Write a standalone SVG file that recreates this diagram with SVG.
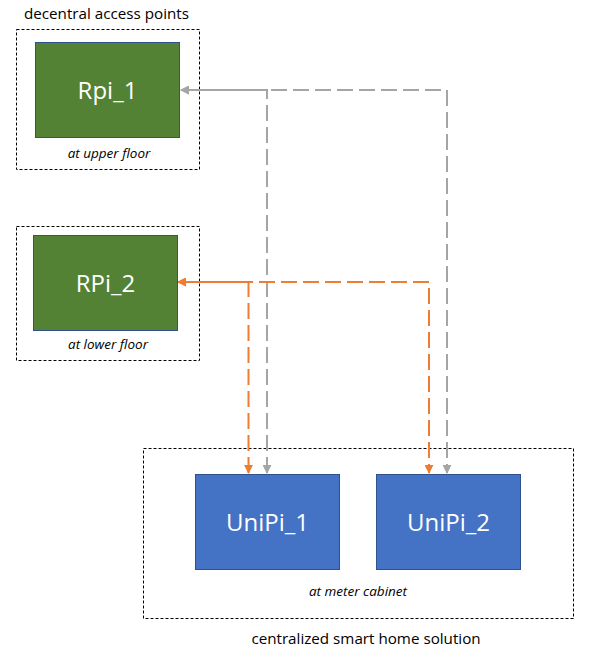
<svg xmlns="http://www.w3.org/2000/svg" width="592" height="658" viewBox="0 0 592 658">
<defs>
<style>
.grp{fill:none;stroke:#000;stroke-width:1;stroke-dasharray:3,2}
.green{fill:#548235;stroke:#2F528F;stroke-width:1}
.blue{fill:#4472C4;stroke:#2F528F;stroke-width:1}
.lbl{font-family:"Open Sans","Noto Sans",sans-serif;fill:#fff;font-size:24px;text-anchor:middle}
.cap{font-family:"Open Sans","Noto Sans",sans-serif;fill:#000;font-size:13.5px;font-style:italic;text-anchor:middle}
.title{font-family:"Open Sans","Noto Sans",sans-serif;fill:#000;font-size:15.2px}
.gray{fill:none;stroke:#A5A5A5;stroke-width:2;stroke-dasharray:16,6;marker-start:url(#ag);marker-end:url(#ag)}
.orange{fill:none;stroke:#ED7D31;stroke-width:2;stroke-dasharray:16,6;marker-start:url(#ao);marker-end:url(#ao)}
.shift{stroke-dashoffset:7}
</style>
<marker id="ag" viewBox="0 0 10 10" refX="9" refY="5" markerWidth="4.5" markerHeight="4.5" orient="auto-start-reverse" markerUnits="strokeWidth"><path d="M0,0L10,5L0,10z" fill="#A5A5A5"/></marker>
<marker id="ao" viewBox="0 0 10 10" refX="9" refY="5" markerWidth="4.5" markerHeight="4.5" orient="auto-start-reverse" markerUnits="strokeWidth"><path d="M0,0L10,5L0,10z" fill="#ED7D31"/></marker>
</defs>
<g id="group-decentral">
<text class="title" x="24" y="19">decentral access points</text>
<rect class="grp" x="16.5" y="29.5" width="183" height="140"/>
<rect class="grp" x="16.5" y="226.5" width="183" height="134"/>
</g>
<g id="group-central">
<rect class="grp" x="143.5" y="448.5" width="430" height="170"/>
<text class="title" x="366" y="644" text-anchor="middle">centralized smart home solution</text>
</g>
<g id="connectors">
<path class="gray" d="M267,473 L267,90 L181,90"/>
<path class="gray shift" d="M447,473 L447,90 L181,90"/>
<path class="orange" d="M248.5,473 L248.5,282 L178,282"/>
<path class="orange shift" d="M429,473 L429,282 L178,282"/>
</g>
<g id="Rpi_1">
<rect class="green" x="35.5" y="42.5" width="144" height="95"/>
<text class="lbl" x="107.5" y="98.5">Rpi_1</text>
<text class="cap" x="109" y="158">at upper floor</text>
</g>
<g id="RPi_2">
<rect class="green" x="33.5" y="235.5" width="144" height="95"/>
<text class="lbl" x="105.5" y="291.5">RPi_2</text>
<text class="cap" x="108" y="349">at lower floor</text>
</g>
<g id="UniPi_1">
<rect class="blue" x="195.5" y="474.5" width="144" height="95"/>
<text class="lbl" x="267.5" y="530.5">UniPi_1</text>
</g>
<g id="UniPi_2">
<rect class="blue" x="376.5" y="474.5" width="144" height="95"/>
<text class="lbl" x="448.5" y="530.5">UniPi_2</text>
</g>
<g id="meter-caption">
<text class="cap" x="358" y="596">at meter cabinet</text>
</g>
</svg>
